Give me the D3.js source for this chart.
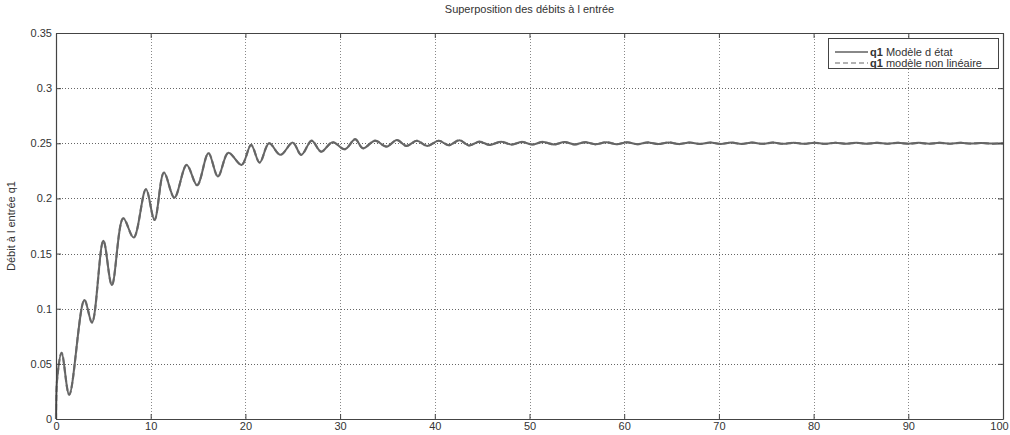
<!DOCTYPE html>
<html>
<head>
<meta charset="utf-8">
<script src="https://cdn.jsdelivr.net/npm/d3@7/dist/d3.min.js"></script>
<style>
html,body{margin:0;padding:0;background:#fff;}
svg{display:block;font-family:"Liberation Sans",Arial,sans-serif;}
</style>
</head>
<body>
<svg id="chart" width="1010" height="435"></svg>
<script>
// ---- data ----
const chartTitle = "Superposition des débits à l entrée";
const yLabel = "Débit à l entrée q1";
const xTicks = [0,10,20,30,40,50,60,70,80,90,100];
const yTicks = [0,0.05,0.1,0.15,0.2,0.25,0.3,0.35];
const yTickLabels = ["0","0.05","0.1","0.15","0.2","0.25","0.3","0.35"];
const legendLabels = [{b:"q1",t:" Modèle d état"},{b:"q1",t:" modèle non linéaire"}];

const time = [0,0.14,0.6,1.4,3.0,3.8,5.0,5.9,7.1,8.2,9.5,10.4,11.4,12.5,13.8,14.9,16.1,17.1,18.2,19.6,20.6,21.5,22.5,23.7,25.0,25.9,27.0,28.0,29.2,30.5,31.6,32.4,33.7,34.9,36.0,37.0,38.1,39.2,40.4,41.5,42.6,43.6,44.7,45.8,47.0,48.1,49.2,50.3,51.4,52.6,53.7,54.8,55.9,57.0,58.1,59.2,60.3,61.4,62.5,63.6,64.7,65.8,66.9,68.0,69.1,70.2,71.3,72.4,73.5,74.6,75.7,76.8,77.9,79.0,80.1,81.2,82.3,83.4,84.5,85.6,86.7,87.8,88.9,90.0,91.1,92.2,93.3,94.4,95.5,96.6,97.7,98.8,100];

const q1Etat = [0,0.038,0.060,0.022,0.108,0.0875,0.1617,0.1215,0.182,0.1645,0.2083,0.1805,0.2234,0.2007,0.2304,0.212,0.241,0.2198,0.2415,0.2304,0.2485,0.2325,0.2500,0.2395,0.2506,0.2395,0.2524,0.2424,0.2510,0.2446,0.2537,0.2455,0.2524,0.2470,0.2530,0.2476,0.2523,0.2476,0.2523,0.2483,0.2528,0.2480,0.2515,0.2485,0.2515,0.2488,0.2512,0.2489,0.2512,0.2490,0.2511,0.2490,0.2510,0.2491,0.2510,0.2492,0.2509,0.2492,0.2508,0.2493,0.2508,0.2493,0.2507,0.2494,0.2507,0.2494,0.2506,0.2494,0.2506,0.2495,0.2506,0.2495,0.2505,0.2495,0.2505,0.2495,0.2505,0.2496,0.2505,0.2496,0.2504,0.2496,0.2504,0.2496,0.2504,0.2496,0.2504,0.2496,0.2504,0.2497,0.2503,0.2497,0.2500];

const q1NonLin = [0,0.038,0.060,0.022,0.108,0.0875,0.1617,0.1215,0.182,0.1645,0.2083,0.1805,0.2234,0.2007,0.2304,0.212,0.241,0.2198,0.2415,0.2304,0.2485,0.2325,0.2500,0.2395,0.2506,0.2395,0.2524,0.2424,0.2510,0.2446,0.2537,0.2455,0.2524,0.2470,0.2530,0.2476,0.2523,0.2476,0.2523,0.2483,0.2528,0.2480,0.2515,0.2485,0.2515,0.2488,0.2512,0.2489,0.2512,0.2490,0.2511,0.2490,0.2510,0.2491,0.2510,0.2492,0.2509,0.2492,0.2508,0.2493,0.2508,0.2493,0.2507,0.2494,0.2507,0.2494,0.2506,0.2494,0.2506,0.2495,0.2506,0.2495,0.2505,0.2495,0.2505,0.2495,0.2505,0.2496,0.2505,0.2496,0.2504,0.2496,0.2504,0.2496,0.2504,0.2496,0.2504,0.2496,0.2504,0.2497,0.2503,0.2497,0.2500];

// ---- layout ----
const svg = d3.select("#chart");
const L = 56, R = 1003, T = 33, B = 419;
const x = d3.scaleLinear().domain([0,100]).range([L,R]);
const y = d3.scaleLinear().domain([0,0.35]).range([B,T]);

// grid
const grid = svg.append("g");
grid.selectAll("line.gx").data(xTicks.slice(1,-1)).enter().append("line")
  .attr("x1",d=>Math.round(x(d))+0.5).attr("x2",d=>Math.round(x(d))+0.5)
  .attr("y1",T).attr("y2",B)
  .attr("stroke","#888").attr("stroke-width",1).attr("stroke-dasharray","1,2");
grid.selectAll("line.gy").data(yTicks.slice(1,-1)).enter().append("line")
  .attr("y1",d=>Math.round(y(d))+0.5).attr("y2",d=>Math.round(y(d))+0.5)
  .attr("x1",L).attr("x2",R)
  .attr("stroke","#666").attr("stroke-width",1).attr("stroke-dasharray","1,2");

// lines
const pts1 = time.map((t,i)=>[t,q1Etat[i]]);
const pts2 = time.map((t,i)=>[t,q1NonLin[i]]);
const line = d3.line().x(d=>x(d[0])).y(d=>y(d[1])).curve(d3.curveCatmullRom.alpha(0.5));
svg.append("path").attr("d",line(pts2)).attr("fill","none")
  .attr("stroke","#8a8a8a").attr("stroke-width",2.2).attr("stroke-dasharray","6,3");
svg.append("path").attr("d",line(pts1)).attr("fill","none")
  .attr("stroke","#656565").attr("stroke-width",2);

// axes (MATLAB-style box, ticks inward)
const fontSize = 11;
const axB = svg.append("g").attr("transform",`translate(0,${B})`)
  .call(d3.axisBottom(x).tickValues(xTicks).tickSizeInner(-5).tickSizeOuter(0).tickPadding(3).tickFormat(d3.format("d")));
const axT = svg.append("g").attr("transform",`translate(0,${T})`)
  .call(d3.axisTop(x).tickValues(xTicks).tickSizeInner(-5).tickSizeOuter(0).tickFormat(""));
const axL = svg.append("g").attr("transform",`translate(${L},0)`)
  .call(d3.axisLeft(y).tickValues(yTicks).tickSizeInner(-5).tickSizeOuter(0).tickPadding(4).tickFormat((d,i)=>yTickLabels[i]));
const axR = svg.append("g").attr("transform",`translate(${R},0)`)
  .call(d3.axisRight(y).tickValues(yTicks).tickSizeInner(-5).tickSizeOuter(0).tickFormat(""));
[axB,axT,axL,axR].forEach(g=>{
  g.select(".domain").attr("stroke","#444").attr("stroke-width",1.2);
  g.selectAll(".tick line").attr("stroke","#444");
  g.selectAll("text").attr("fill","#333").style("font-size",fontSize+"px")
    .style("font-family","'Liberation Sans',Arial,sans-serif");
});
// keep the last x label inside the window
axB.selectAll(".tick text").filter(d=>d===100).attr("dx",-4);

// title
svg.append("text").attr("x",(L+R)/2).attr("y",13).attr("text-anchor","middle")
  .attr("fill","#333").style("font-size","11px").text(chartTitle);

// y label
svg.append("text").attr("transform",`translate(15,${(T+B)/2}) rotate(-90)`)
  .attr("text-anchor","middle").attr("fill","#333").style("font-size","11px").text(yLabel);

// legend
const lg = svg.append("g");
lg.append("rect").attr("x",828.5).attr("y",38.5).attr("width",170).attr("height",30)
  .attr("fill","#fff").attr("stroke","#444").attr("stroke-width",1);
const legStyles = [{c:"#606060",dash:null},{c:"#999",dash:"5,3"}];
legendLabels.forEach((lab,i)=>{
  const yy = 52 + i*11;
  lg.append("line").attr("x1",835).attr("x2",868).attr("y1",yy).attr("y2",yy)
    .attr("stroke",legStyles[i].c).attr("stroke-width",1.3)
    .attr("stroke-dasharray",legStyles[i].dash);
  const t = lg.append("text").attr("x",870).attr("y",yy+4).attr("fill","#333").style("font-size","11px");
  t.append("tspan").attr("font-weight","bold").text(lab.b);
  t.append("tspan").text(lab.t);
});
</script>
</body>
</html>
